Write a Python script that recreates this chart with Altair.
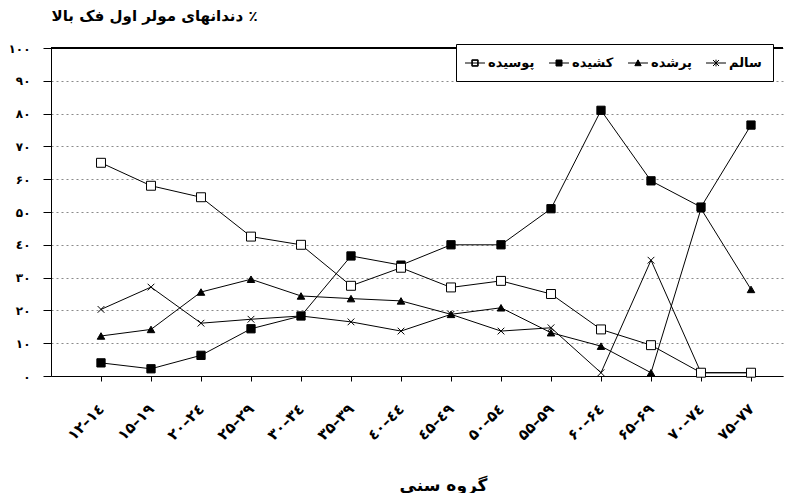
import json
import altair as alt
import pandas as pd

# ---- data ----
ages = ["۱۲–۱٤", "۱۵–۱۹", "۲۰–۲٤", "۲۵–۲۹", "۳۰–۳٤", "۳۵–۳۹", "٤۰–٤٤",
        "٤۵–٤۹", "۵۰–۵٤", "۵۵–۵۹", "۶۰–۶٤", "۶۵–۶۹", "۷۰–۷٤", "۷۵–۷۷"]
y_ticks = [0, 10, 20, 30, 40, 50, 60, 70, 80, 90, 100]
y_tick_labels = ["۰", "۱۰", "۲۰", "۳۰", "٤۰", "۵۰", "۶۰", "۷۰", "۸۰", "۹۰", "۱۰۰"]

series_order = ["پوسیده", "کشیده", "پرشده", "سالم"]
poosideh = [65, 58, 54.5, 42.5, 40, 27.5, 33, 27, 29, 25, 14.2, 9.4, 1, 1]
kashideh = [4, 2.2, 6.3, 14.4, 18.3, 36.6, 33.8, 40, 40, 51, 81, 59.5, 51.5, 76.5]
porshodeh = [12.2, 14.2, 25.6, 29.5, 24.4, 23.6, 22.9, 18.8, 20.8, 13.2, 9.1, 1, 51, 26.4]
salem = [20.3, 27.1, 16.1, 17.3, 18.3, 16.5, 13.7, 18.8, 13.7, 14.7, 1, 35.3, 1, 1]

y_title = "\u200f٪ دندانهای مولر اول فک بالا"
x_title = "گروه سنی"

rows = []
for name, vals in [("سالم", salem), ("پرشده", porshodeh), ("کشیده", kashideh), ("پوسیده", poosideh)]:
    for i, v in enumerate(vals):
        rows.append({"series": name, "idx": i, "value": v})
df = pd.DataFrame(rows)

FONT = "DejaVu Sans"
W = 732

x_enc = alt.X(
    "idx:Q",
    scale=alt.Scale(domain=[-1, -1 + W / 50], nice=False, zero=False),
    axis=alt.Axis(
        values=list(range(len(ages))),
        labelExpr=json.dumps(ages, ensure_ascii=False) + "[datum.value]",
        labelAngle=315, labelAlign="right", labelBaseline="middle",
        labelPadding=25, labelOverlap=False, labelFlush=False, labelFontSize=15,
        grid=False, tickSize=5, tickColor="black", domainColor="black",
        title=x_title, titleX=392, titleY=109, titleBaseline="middle",
        titleAlign="center", titleAngle=0, titleFontSize=17,
    ),
)
y_enc = alt.Y(
    "value:Q",
    scale=alt.Scale(domain=[0, 100], nice=False, zero=True),
    axis=alt.Axis(
        values=y_ticks, tickCount=11,
        labelExpr=json.dumps(y_tick_labels, ensure_ascii=False) + "[round(datum.value/10)]",
        labelOverlap=False,
        grid=True, gridDash=[2, 3], gridColor="#8a8a8a", gridWidth=1,
        tickSize=8, tickColor="black", domainColor="black", labelPadding=13,
        title=y_title, titleAngle=0, titleAlign="left", titleX=0, titleY=-25,
        titleBaseline="bottom", titleFontSize=15,
    ),
)

lines = alt.Chart(df).mark_line(color="black", strokeWidth=1).encode(
    x=x_enc, y=y_enc, detail="series:N"
)

points = alt.Chart(df).mark_point(stroke="black", strokeWidth=1, opacity=1).encode(
    x="idx:Q",
    y="value:Q",
    shape=alt.Shape("series:N", legend=None, scale=alt.Scale(
        domain=series_order,
        range=["square", "square", "triangle-up", "M-1,-1L1,1M-1,1L1,-1"])),
    fill=alt.Fill("series:N", legend=None, scale=alt.Scale(
        domain=series_order, range=["white", "black", "black", "transparent"])),
    size=alt.Size("series:N", legend=None, scale=alt.Scale(
        domain=series_order, range=[80, 45, 50, 70])),
)

legend_layer = alt.Chart(df).transform_filter("false").mark_point(
    fill="black", stroke="black", strokeWidth=1, opacity=1
).encode(
    x="idx:Q",
    y="value:Q",
    shape=alt.Shape("series:N", title=None, scale=alt.Scale(
        domain=series_order,
        range=["M-1.33,0H1.33M-0.42,-0.42H0.42V0.42H-0.42ZM-0.36,-0.36V0.36H0.36V-0.36Z",
               "M-1.33,0H1.33M-0.4,-0.4H0.4V0.4H-0.4Z",
               "M-1.33,0H1.33M0,-0.42L0.42,0.36H-0.42Z",
               "M-1.33,0H1.33M-0.4,-0.4L0.4,0.4M-0.4,0.4L0.4,-0.4M0,-0.45V0.45"]),
        legend=alt.Legend(orient="none", legendX=405, legendY=-4, direction="horizontal")),
)

top_rule = alt.Chart(df).mark_rule(color="black", strokeWidth=1).encode(y=alt.datum(100))

chart = alt.layer(lines, points, legend_layer, top_rule).resolve_scale(
    shape="independent", fill="independent", size="independent"
).properties(
    width=W, height=328,
    padding={"left": 0, "top": 0, "right": 0, "bottom": 0},
    background="white",
).configure_view(stroke=None).configure_axis(
    labelFont=FONT, labelFontSize=12, labelFontWeight="bold", labelColor="black",
    titleFont=FONT, titleFontSize=12, titleFontWeight="bold", titleColor="black",
).configure_legend(
    strokeColor="black", fillColor="white", padding=11,
    symbolSize=225, symbolStrokeWidth=1,
    labelFont=FONT, labelFontSize=13, labelFontWeight="bold", labelColor="black",
    labelOffset=5, columnPadding=12,
)

chart.save("out.html", embed_options={"renderer": "svg", "actions": False})
